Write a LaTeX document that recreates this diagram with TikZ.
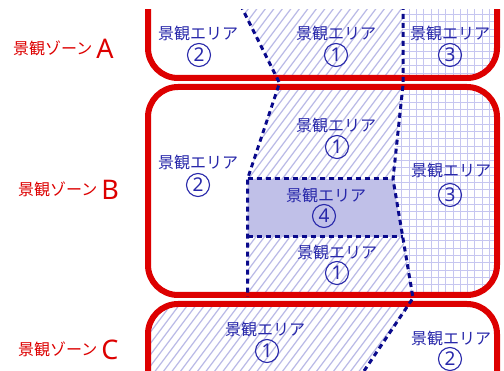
\documentclass[tikz,border=0pt]{standalone}
\usepackage{fontspec}
\setmainfont{Noto Sans CJK JP}
\newfontfamily\latinfont{Noto Sans}
\definecolor{zred}{RGB}{221,0,0}
\definecolor{lblue}{RGB}{40,40,170}
\definecolor{dblue}{RGB}{10,10,140}
\definecolor{hatchc}{RGB}{185,185,230}
\definecolor{gridc}{RGB}{198,198,240}
\definecolor{fourc}{RGB}{192,192,232}
\begin{document}
\begin{tikzpicture}[x=1pt,y=-1pt,
  areatxt/.style={text=lblue,font=\fontsize{16}{16}\selectfont,inner sep=0pt},
  numc/.style={circle,draw=lblue,line width=1.1pt,text=lblue,minimum size=23pt,inner sep=0pt,font=\latinfont\fontsize{19}{19}\selectfont},
  zonetxt/.style={text=zred,anchor=base west,inner sep=0pt,font=\fontsize{16}{16}\selectfont},
  zonebox/.style={draw=zred,line width=6pt,rounded corners=30pt},
  divider/.style={draw=dblue,line width=3pt,dash pattern=on 5pt off 4pt},
  hatchline/.style={draw=hatchc,line width=1.2pt},
  gridline/.style={draw=gridc,line width=0.9pt}]
\useasboundingbox[fill=white] (0,0) rectangle (504,371);
% vertices of the dividers
\coordinate (L0) at (240.5,5);
\coordinate (L1) at (279.5,83);
\coordinate (L2) at (247.5,179);
\coordinate (L3) at (247.5,297);
\coordinate (R0) at (403,5);
\coordinate (R1) at (403,85);
\coordinate (R2) at (393,179);
\coordinate (R3) at (413,298);
\coordinate (R4) at (360,377);
\coordinate (F1) at (402.7,237);
\coordinate (F2) at (247.5,237);
\begin{scope}
\clip (0,10) rectangle (504,380);
\begin{scope}
\clip[rounded corners=30pt] (148,-60) rectangle (497,78) (148,87) rectangle (497,295) (148,304) rectangle (497,430);
% hatched area 1
\begin{scope}
\clip (L0) -- (L1) -- (L2) -- (247.5,299) -- (100,299) -- (100,400) -- (R4) -- (R3) -- (R2) -- (R1) -- (R0) -- cycle;
\foreach \i in {-300,-291.5,...,520} \draw[hatchline] (\i,400) -- ({\i+300},0);
\end{scope}
% grid area 3
\begin{scope}
\clip (R0) -- (R1) -- (R2) -- (R3) -- (520,298) -- (520,0) -- cycle;
\foreach \i in {380,387.3,...,520} \draw[gridline] (\i,0) -- (\i,320);
\foreach \j in {0,7.3,...,320} \draw[gridline] (380,\j) -- (520,\j);
\end{scope}
% area 4
\fill[fourc] (L2) -- (R2) -- (F1) -- (F2) -- cycle;
\end{scope}
% zone boxes
\draw[zonebox] (148,-60) rectangle (497,78);
\draw[zonebox] (148,87) rectangle (497,295);
\draw[zonebox] (148,304) rectangle (497,430);
% dividers
\draw[divider] (L0) -- (L1) -- (L2) -- (L3);
\draw[divider] (R0) -- (R1) -- (R2) -- (R3) -- (R4);
\draw[divider] (L2) -- (R2);
\draw[divider] (F2) -- (F1);
\end{scope}
% zone labels
\node[zonetxt] (zA) at (13,55) {景観ゾーン\hspace{4pt}\raisebox{-4pt}{\latinfont\fontsize{27}{27}\selectfont A}};
\node[zonetxt] (zB) at (18,196) {景観ゾーン\hspace{4pt}\raisebox{-4pt}{\latinfont\fontsize{27}{27}\selectfont B}};
\node[zonetxt] (zC) at (18,356) {景観ゾーン\hspace{4pt}\raisebox{-4pt}{\latinfont\fontsize{27}{27}\selectfont C}};
% zone A areas
\node[areatxt] (a2t) at (198,33) {景観エリア};
\node[numc] (a2n) at (199,55) {2};
\node[areatxt] (a1t) at (336,33) {景観エリア};
\node[numc] (a1n) at (336,55) {1};
\node[areatxt] (a3t) at (450,33) {景観エリア};
\node[numc] (a3n) at (450,55) {3};
% zone B areas
\node[areatxt] (b1t) at (336,125) {景観エリア};
\node[numc] (b1n) at (337,147) {1};
\node[areatxt] (b2t) at (198,162) {景観エリア};
\node[numc] (b2n) at (198,185) {2};
\node[areatxt] (b3t) at (451,170) {景観エリア};
\node[numc] (b3n) at (450,195) {3};
\node[areatxt] (b4t) at (326,195) {景観エリア};
\node[numc] (b4n) at (324,216) {4};
\node[areatxt] (b5t) at (337,252) {景観エリア};
\node[numc] (b5n) at (337,273) {1};
% zone C areas
\node[areatxt] (c1t) at (265,329) {景観エリア};
\node[numc] (c1n) at (267,351) {1};
\node[areatxt] (c2t) at (451,338) {景観エリア};
\node[numc] (c2n) at (450,359) {2};
\end{tikzpicture}
\end{document}
